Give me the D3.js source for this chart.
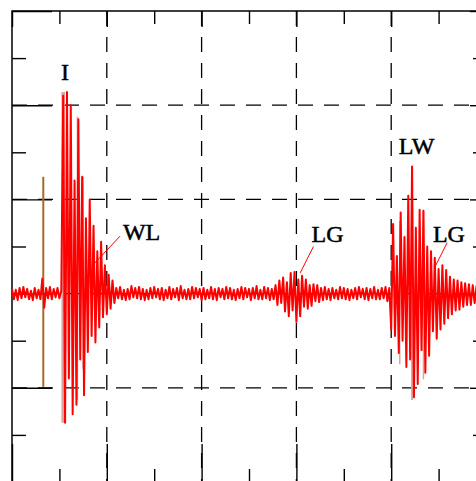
<!DOCTYPE html>
<html>
<head>
<meta charset="utf-8">
<script src="https://cdn.jsdelivr.net/npm/d3@7"></script>
<style>
body { margin: 0; background: #fff; }
.tick text { display: none; }
</style>
</head>
<body>
<div class="chart"></div>
<script>

// trace samples, one every 2 time units (1 division = 100 units on both axes)
const quietStart = [5,-6,4,-7,6,-5,7,-4,5,-6,3,-7,6,-5,4,-6, 16,-15, 6,-5,7,-6,5,-4,6,-5,3]
const burstI = [210,-137,214,-90,200,-128,120,-118,185,-70,124,-108,80,-62,100,-45,72,-52,45,-36,55,-25,30,-22,20,-16,14,-10]
const quietMid = [6,-5,7,-6,4,-7,5,-6,8,-4,6,-5,7,-6,5,-7,4,-6,6,-5,
    7,-4,5,-6,6,-7,4,-5,7,-6,5,-4,6,-7,8,-5,4,-6,5,-6,
    7,-5,6,-4,5,-7,6,-6,4,-5,7,-6,5,-7,6,-4,5,-6,7,-5,
    6,-6,4,-7,5,-5,7,-6,6,-4,5,-7,6,-5,8,-6,4,-6,7,-5,
    6,-7,5,-6]
const burstLG = [9,-12,14,-10,17,-19,12,-24,22,-18,23,-30,15,-24,19,-14,15,-16,9,-13,10,-8,9,-9,6,-7]
const quietLate = [7,-6,5,-7,6,-5,4,-6,7,-5,6,-6,5,-7,4,-5,6,-6,7,-4,
    5,-6,6,-7,5,-5,7,-6,4,-6,6,-5,7,-8,6]
const burstLW = [-38,74,-45,40,-63,86,-50,60,-78,104,-70,135,-110,70,-96,89,-60,88,-84,50,-66,45,-40,38,-48,26,-38,30,-32,25,-26,18,-22,15,-18,14,-17,12,-14,11,-12,10,-12,9,-10,8,-9,7,-8,7,-8]
const signal = [].concat(quietStart, burstI, quietMid, burstLG, quietLate, burstLW)
const step = 2

// trigger marker (brown)
const trigT = 33, trigHi = 124, trigLo = -99

// faded overlay traces (pink)
const pinkT = [54, 69, 75, 409, 422, 434]
const pinkHi = [214, 188, 124, 77, 135, 89]
const pinkLo = [-137, -113, -80, -75, -113, -91]
const pinkW = [3.5, 1.5, 1.5, 1.5, 2, 1.5]

// annotations
const labels = ["I", "WL", "LG", "LW", "LG"]
const labelT = [56, 117, 316, 408, 444]
const labelV = [227, 57, 55, 148, 55]
const labelAnchor = ["middle", "start", "start", "start", "start"]
const leaderT1 = [114, 318, 459], leaderV1 = [61, 50, 54]
const leaderT2 = [85, 304, 447], leaderV2 = [30, 22, 30]

const majorX = [0, 100, 200, 300, 400, 500]
const minorX = [50, 150, 250, 350, 450]
const majorY = [-200, -100, 0, 100, 200, 300]
const minorY = [-150, -50, 50, 150, 250]
const gridX = [100, 200, 300, 400]
const gridY = [-100, 0, 100, 200]

const width = 476, height = 481

const svg = d3.select(".chart").append("svg")
    .attr("width", width)
    .attr("height", height)

const x = d3.scaleLinear().domain([0, 500]).range([12, 486])
const y = d3.scaleLinear().domain([-200, 300]).range([482, 11])

// dashed grid
svg.selectAll(".gx").data(gridX).enter().append("line")
    .attr("x1", d => x(d)).attr("x2", d => x(d))
    .attr("y1", y(300)).attr("y2", y(-200))
    .attr("stroke", "#000").attr("stroke-width", 1.3)
    .attr("stroke-dasharray", "15,11")
svg.selectAll(".gy").data(gridY).enter().append("line")
    .attr("y1", d => y(d)).attr("y2", d => y(d))
    .attr("x1", x(0)).attr("x2", x(500))
    .attr("stroke", "#000").attr("stroke-width", 1.3)
    .attr("stroke-dasharray", "15,11")

// inward ticks on all four sides
function ticks(axis, vals, size, tr) {
    svg.append("g")
        .attr("transform", tr)
        .call(axis.tickValues(vals).tickSize(size).tickSizeOuter(0).tickFormat(""))
        .call(g => g.select(".domain").remove())
        .selectAll("line").attr("stroke-width", 1.4)
}
ticks(d3.axisBottom(x), majorX, 16, `translate(0,${y(300)})`)
ticks(d3.axisBottom(x), minorX, 13, `translate(0,${y(300)})`)
ticks(d3.axisTop(x), majorX, 38, `translate(0,${y(-200)})`)
ticks(d3.axisTop(x), minorX, 13, `translate(0,${y(-200)})`)
ticks(d3.axisRight(y), majorY, 40, `translate(${x(0)},0)`)
ticks(d3.axisRight(y), minorY, 14, `translate(${x(0)},0)`)
ticks(d3.axisLeft(y), majorY, 16, `translate(${x(500)},0)`)
ticks(d3.axisLeft(y), minorY, 13, `translate(${x(500)},0)`)

svg.append("rect")
    .attr("x", x(0)).attr("y", y(300))
    .attr("width", x(500) - x(0)).attr("height", y(-200) - y(300))
    .attr("fill", "none").attr("stroke", "#000").attr("stroke-width", 1.5)

// trigger marker
svg.append("line")
    .attr("x1", x(trigT)).attr("x2", x(trigT))
    .attr("y1", y(trigHi)).attr("y2", y(trigLo))
    .attr("stroke", "#a86a2c").attr("stroke-width", 2)

// pink overlay
svg.selectAll(".pink").data(pinkT).enter().append("line")
    .attr("x1", d => x(d)).attr("x2", d => x(d))
    .attr("y1", (d, i) => y(pinkHi[i])).attr("y2", (d, i) => y(pinkLo[i]))
    .attr("stroke", "#dca4a0").attr("stroke-width", (d, i) => pinkW[i])

// main trace
const line = d3.line()
    .x((d, i) => x(i * step))
    .y(d => y(d))

svg.append("path")
    .datum(signal)
    .attr("d", line)
    .attr("fill", "none")
    .attr("stroke", "#ff0000")
    .attr("stroke-width", 2)
    .attr("stroke-linejoin", "round")

// leaders + labels
svg.selectAll(".leader").data(leaderT1).enter().append("line")
    .attr("x1", d => x(d)).attr("y1", (d, i) => y(leaderV1[i]))
    .attr("x2", (d, i) => x(leaderT2[i])).attr("y2", (d, i) => y(leaderV2[i]))
    .attr("stroke", "#ff0000").attr("stroke-width", 1)

svg.selectAll(".lab").data(labels).enter().append("text")
    .attr("x", (d, i) => x(labelT[i]))
    .attr("y", (d, i) => y(labelV[i]))
    .attr("text-anchor", (d, i) => labelAnchor[i])
    .attr("font-family", "Liberation Serif, serif")
    .attr("font-size", 24)
    .attr("fill", "#000")
    .attr("stroke", "#000")
    .attr("stroke-width", 0.5)
    .text(d => d)

</script>
</body>
</html>
